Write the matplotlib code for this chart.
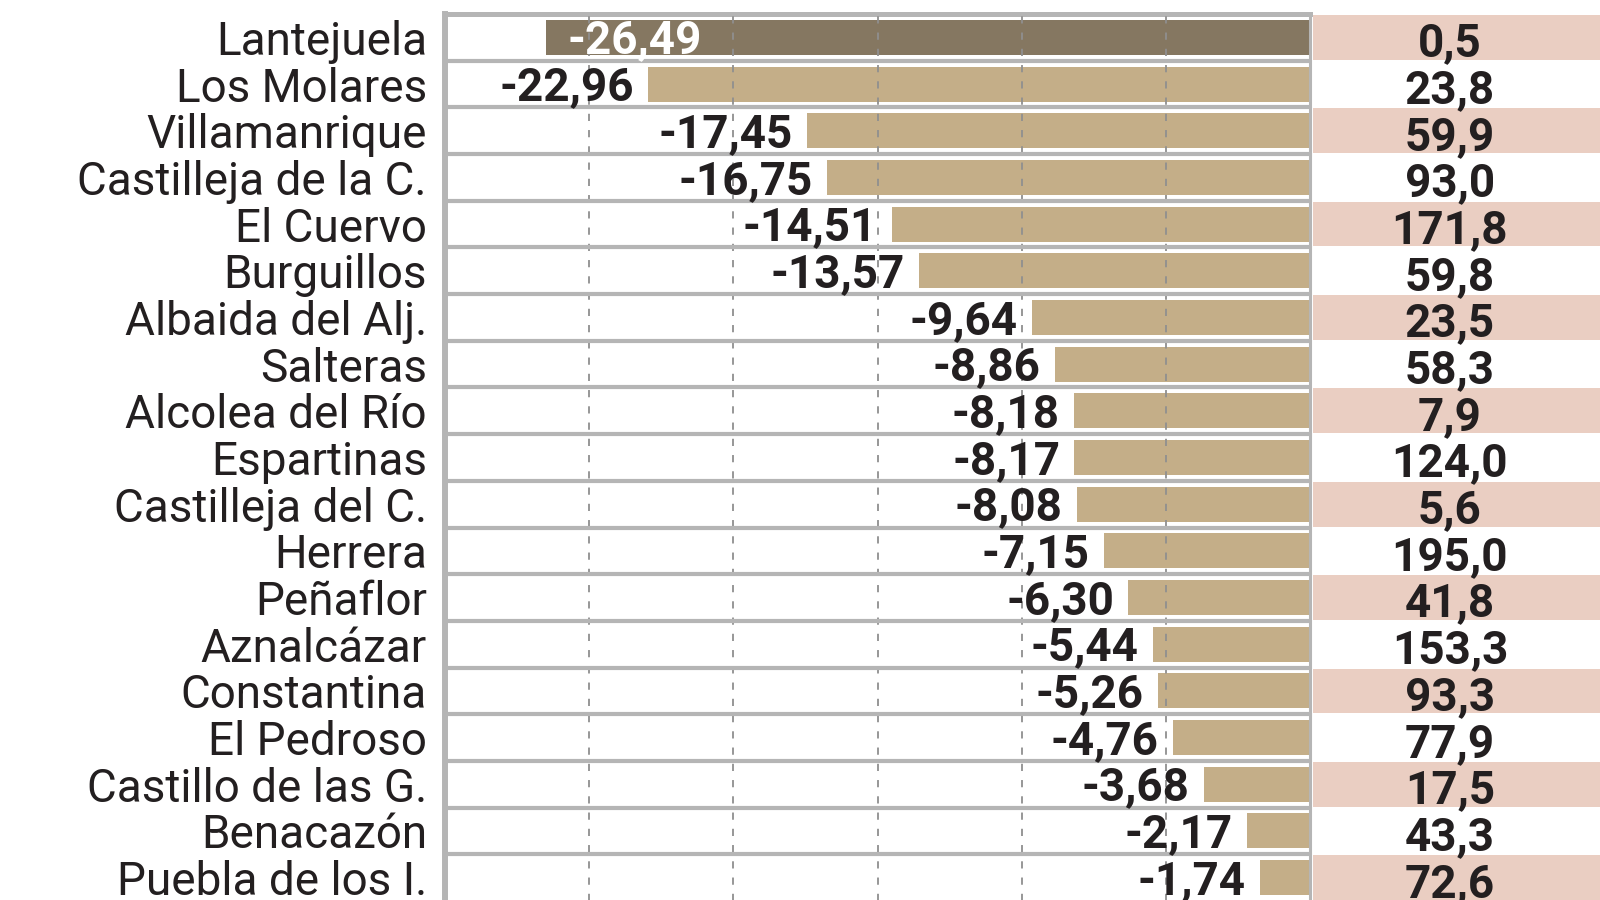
import matplotlib.pyplot as plt

plt.rcParams['font.family'] = ['Roboto', 'DejaVu Sans']

# data
names = ['Lantejuela', 'Los Molares', 'Villamanrique', 'Castilleja de la C.', 'El Cuervo',
         'Burguillos', 'Albaida del Alj.', 'Salteras', 'Alcolea del Río', 'Espartinas',
         'Castilleja del C.', 'Herrera', 'Peñaflor', 'Aznalcázar', 'Constantina',
         'El Pedroso', 'Castillo de las G.', 'Benacazón', 'Puebla de los I.']
change = [-26.49, -22.96, -17.45, -16.75, -14.51, -13.57, -9.64, -8.86, -8.18, -8.17,
          -8.08, -7.15, -6.30, -5.44, -5.26, -4.76, -3.68, -2.17, -1.74]
right_vals = [0.5, 23.8, 59.9, 93.0, 171.8, 59.8, 23.5, 58.3, 7.9, 124.0,
              5.6, 195.0, 41.8, 153.3, 93.3, 77.9, 17.5, 43.3, 72.6]
grid_ticks = [-25, -20, -15, -10, -5]
highlight = 'Lantejuela'

tan = '#c4ae88'
dark = '#857761'
pink = '#eacec2'
grey = '#b5b5b5'
txt = '#231f20'

n = len(names)
rows = list(range(n))

fig = plt.figure(figsize=(16, 9), dpi=100)
bottom = 1 - 901 / 900
height = 887 / 900
ax = fig.add_axes([445 / 1600, bottom, 865 / 1600, height])
ax2 = fig.add_axes([1313 / 1600, bottom, 287 / 1600, height])

colors = [dark if nm == highlight else tan for nm in names]
ax.barh(rows, change, height=0.75, color=colors, zorder=2)

for g in grid_ticks:
    ax.axvline(g, color='#8f8f8f', lw=1.3, ls=(0, (4, 5)), zorder=3)
for i in rows[:-1]:
    ax.axhline(i + 0.5, color=grey, lw=3.0, zorder=4)

for i, v in enumerate(change):
    s = f'{v:.2f}'.replace('.', ',')
    if v < -25:
        ax.text(v + 0.75, i + 0.07, s, ha='left', va='center', color='white',
                fontsize=33, fontweight='bold', zorder=5)
    else:
        ax.text(v - 0.5, i + 0.07, s, ha='right', va='center', color=txt,
                fontsize=33, fontweight='bold', zorder=5)

ax.set_xlim(-30, 0)
ax.set_ylim(n - 0.5, -0.5)
ax.set_xticks([])
ax.set_yticks(rows, names)
ax.tick_params(axis='y', length=0, pad=13, labelsize=33, labelcolor=txt)
ax.spines['bottom'].set_visible(False)
ax.spines['left'].set_linewidth(4.3)
ax.spines['top'].set_linewidth(3.6)
ax.spines['right'].set_linewidth(2.2)
for sp in ['left', 'top', 'right']:
    ax.spines[sp].set_color(grey)

# right column with alternating stripes
for i, v in enumerate(right_vals):
    if i % 2 == 0:
        ax2.axhspan(i - 0.48, i + 0.48, color=pink, lw=0)
    ax2.text(0.477, i + 0.13, f'{v:.1f}'.replace('.', ','), ha='center', va='center',
             transform=ax2.get_yaxis_transform(), color=txt,
             fontsize=33, fontweight='bold')
ax2.set_xlim(0, 1)
ax2.set_ylim(n - 0.5, -0.5)
ax2.axis('off')

fig.savefig('out.png', dpi=100)
